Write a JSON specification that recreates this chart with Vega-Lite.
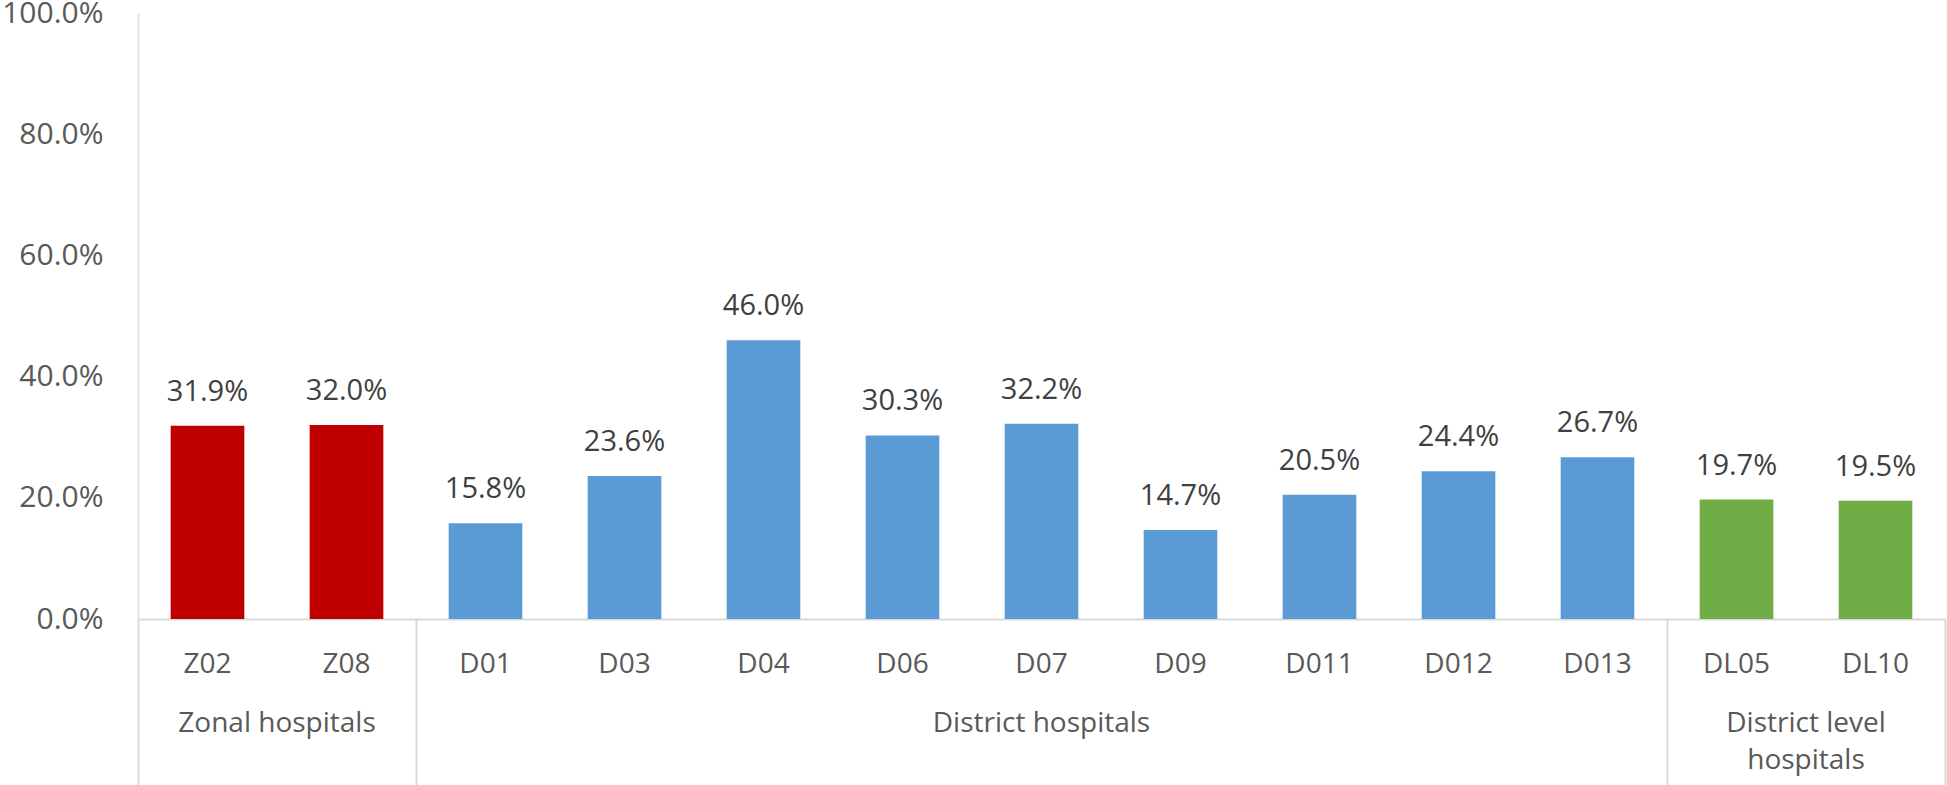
{
  "$schema": "https://vega.github.io/schema/vega-lite/v6.json",
  "width": 1807,
  "height": 606,
  "autosize": {"type": "none"},
  "padding": {"left": 138, "top": 13, "right": 2, "bottom": 166},
  "background": "white",
  "config": {"view": {"stroke": null}, "font": "Open Sans"},
  "layer": [
    {
      "data": {
        "values": [
          {"hospital": "Z02", "group": "Zonal hospitals", "value": 0.319},
          {"hospital": "Z08", "group": "Zonal hospitals", "value": 0.320},
          {"hospital": "D01", "group": "District hospitals", "value": 0.158},
          {"hospital": "D03", "group": "District hospitals", "value": 0.236},
          {"hospital": "D04", "group": "District hospitals", "value": 0.460},
          {"hospital": "D06", "group": "District hospitals", "value": 0.303},
          {"hospital": "D07", "group": "District hospitals", "value": 0.322},
          {"hospital": "D09", "group": "District hospitals", "value": 0.147},
          {"hospital": "D011", "group": "District hospitals", "value": 0.205},
          {"hospital": "D012", "group": "District hospitals", "value": 0.244},
          {"hospital": "D013", "group": "District hospitals", "value": 0.267},
          {"hospital": "DL05", "group": "District level hospitals", "value": 0.197},
          {"hospital": "DL10", "group": "District level hospitals", "value": 0.195}
        ]
      },
      "encoding": {
        "x": {
          "field": "hospital",
          "type": "nominal",
          "sort": null,
          "scale": {"paddingInner": 0.47, "paddingOuter": 0.235},
          "axis": {
            "title": null,
            "labelAngle": 0,
            "ticks": false,
            "tickSize": 0,
            "labelPadding": 31,
            "labelFontSize": 28,
            "labelColor": "#595959",
            "domainColor": "#d9d9d9",
            "domainWidth": 2
          }
        },
        "y": {
          "field": "value",
          "type": "quantitative",
          "scale": {"domain": [0, 1], "nice": false},
          "axis": {
            "title": null,
            "values": [0, 0.2, 0.4, 0.6, 0.8, 1.0],
            "format": ".1%",
            "grid": false,
            "ticks": false,
            "tickSize": 0,
            "labelPadding": 35,
            "labelFontSize": 30,
            "labelColor": "#595959",
            "domainColor": "#dde3ec",
            "domainWidth": 2
          }
        }
      },
      "layer": [
        {
          "mark": {"type": "bar"},
          "encoding": {
            "color": {
              "field": "group",
              "type": "nominal",
              "scale": {
                "domain": ["Zonal hospitals", "District hospitals", "District level hospitals"],
                "range": ["#C00000", "#5B9BD5", "#70AD47"]
              },
              "legend": null
            }
          }
        },
        {
          "mark": {"type": "text", "baseline": "alphabetic", "dy": -25, "fontSize": 29, "color": "#404040"},
          "encoding": {
            "text": {"field": "value", "type": "quantitative", "format": ".1%"}
          }
        }
      ]
    },
    {
      "data": {
        "values": [
          {"pos": 1, "label": "Zonal hospitals"},
          {"pos": 6.5, "label": "District hospitals"},
          {"pos": 12, "label": "District level\nhospitals"}
        ]
      },
      "mark": {"type": "text", "baseline": "top", "dy": 91, "fontSize": 28, "color": "#595959", "lineBreak": "\n", "lineHeight": 37},
      "encoding": {
        "x": {
          "field": "pos",
          "type": "quantitative",
          "scale": {"domain": [0, 13], "nice": false, "zero": false},
          "axis": {
            "orient": "bottom",
            "title": null,
            "values": [0, 2, 11, 13],
            "labels": false,
            "domain": false,
            "grid": false,
            "ticks": true,
            "tickSize": 166,
            "tickColor": "#d9d9d9",
            "tickWidth": 2
          }
        },
        "y": {"datum": 0},
        "text": {"field": "label"}
      }
    }
  ],
  "resolve": {"scale": {"x": "independent"}}
}
